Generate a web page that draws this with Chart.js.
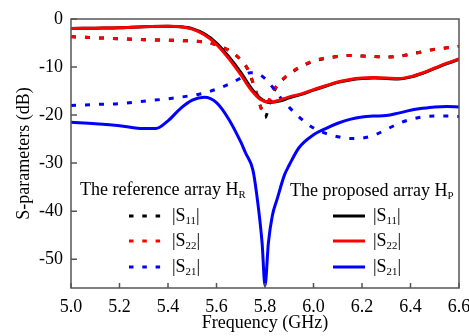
<!DOCTYPE html>
<html>
<head>
<meta charset="utf-8">
<script src="https://cdn.jsdelivr.net/npm/chart.js@4.4.1/dist/chart.umd.min.js"></script>
<style>
  html, body { margin: 0; padding: 0; background: #fff; }
  #box { width: 469px; height: 336px; }
</style>
</head>
<body>
<div id="box"><canvas id="sparam"></canvas></div>
<script>
// frequency (GHz) and S-parameters (dB)
const freqPropRefl = [5.0,5.1,5.2,5.3,5.4,5.45,5.5,5.55,5.6,5.65,5.7,5.74,5.78,5.82,5.86,5.9,5.95,6.0,6.05,6.1,6.15,6.2,6.25,6.3,6.35,6.4,6.45,6.5,6.55,6.6]
const s22Prop = [-2.0,-1.9,-1.8,-1.6,-1.5,-1.6,-2.1,-3.3,-5.3,-8.2,-11.6,-14.6,-16.7,-17.3,-16.9,-16.2,-15.6,-14.7,-13.9,-13.1,-12.6,-12.3,-12.2,-12.3,-12.4,-12.0,-11.2,-10.2,-9.2,-8.3]
const s11Prop = [-2.0,-1.9,-1.8,-1.6,-1.5,-1.6,-2.0,-3.1,-5.0,-7.8,-11.1,-14.2,-16.5,-17.4,-17.1,-16.4,-15.7,-14.8,-14.0,-13.2,-12.7,-12.4,-12.3,-12.4,-12.5,-12.1,-11.3,-10.3,-9.3,-8.4]

const freqRefRefl = [5.0,5.1,5.2,5.3,5.4,5.5,5.55,5.6,5.65,5.7,5.73,5.76,5.79,5.81,5.83,5.86,5.9,5.95,6.0,6.05,6.1,6.15,6.2,6.25,6.3,6.35,6.4,6.45,6.5,6.55,6.6]
const s22Ref = [-3.7,-3.9,-4.1,-4.3,-4.4,-4.6,-4.8,-5.4,-6.5,-8.5,-10.5,-14.5,-18.8,-17.5,-15.3,-13.2,-11.4,-9.8,-8.7,-8.1,-7.8,-7.6,-7.7,-7.8,-7.9,-7.8,-7.3,-6.8,-6.3,-6.0,-5.7]
const freqRefS11 = [5.0,5.1,5.2,5.3,5.4,5.5,5.55,5.6,5.65,5.7,5.73,5.76,5.78,5.80,5.82,5.84,5.87,5.9,5.95,6.0,6.05,6.1,6.15,6.2,6.25,6.3,6.35,6.4,6.45,6.5,6.55,6.6]
const s11Ref = [-3.7,-3.9,-4.1,-4.3,-4.4,-4.6,-4.8,-5.4,-6.5,-8.5,-10.6,-14.8,-18.0,-20.5,-17.5,-14.8,-12.8,-11.5,-9.9,-8.8,-8.2,-7.8,-7.6,-7.7,-7.8,-7.9,-7.8,-7.3,-6.8,-6.3,-6.0,-5.7]

const freqRefS21 = [5.0,5.1,5.2,5.3,5.4,5.5,5.55,5.6,5.65,5.7,5.74,5.77,5.8,5.83,5.87,5.9,5.94,6.0,6.05,6.1,6.15,6.2,6.25,6.3,6.35,6.4,6.45,6.5,6.55,6.6]
const s21Ref = [-18.0,-17.8,-17.6,-17.1,-16.6,-15.9,-15.4,-14.6,-13.6,-12.3,-11.2,-11.4,-12.4,-14.1,-16.8,-18.4,-20.4,-22.7,-23.8,-24.5,-24.9,-24.8,-24.2,-23.0,-21.8,-20.9,-20.4,-20.2,-20.2,-20.3]

const freqPropS21 = [5.0,5.1,5.2,5.3,5.35,5.4,5.45,5.5,5.55,5.6,5.65,5.7,5.72,5.75,5.765,5.788,5.8,5.814,5.83,5.85,5.88,5.9,5.94,6.0,6.05,6.1,6.15,6.2,6.25,6.3,6.35,6.4,6.45,6.5,6.55,6.6]
const s21Prop = [-21.5,-21.8,-22.2,-22.8,-22.8,-21.2,-18.7,-16.9,-16.3,-17.4,-20.8,-25.6,-27.9,-31.4,-36.2,-46.6,-55.5,-46.6,-41.0,-37.5,-32.5,-30.4,-26.8,-24.1,-22.8,-21.7,-20.9,-20.4,-20.2,-20.1,-19.6,-19.0,-18.6,-18.3,-18.2,-18.3]

const xTicks = [5.0,5.2,5.4,5.6,5.8,6.0,6.2,6.4,6.6]
const yTicks = [0,-10,-20,-30,-40,-50]

const serif = "'Liberation Serif', 'Times New Roman', serif"
Chart.defaults.font.family = serif
Chart.defaults.font.size = 18
Chart.defaults.color = '#000'

const pts = (xs, ys) => xs.map((x, i) => ({x: x, y: ys[i]}))
const dashed = [5, 9]

function line(label, xs, ys, color, dash, order) {
    return {
        label: label,
        data: pts(xs, ys),
        borderColor: color,
        borderWidth: 3,
        borderDash: dash || [],
        pointRadius: 0,
        fill: false,
        cubicInterpolationMode: 'monotone',
        order: order
    }
}

// draws a run of [text, isSubscript] pieces starting at x, vertically centred on y
function richText(ctx, x, y, parts, size) {
    parts.forEach(p => {
        const sub = p[1]
        ctx.font = (sub ? size * 0.6 : size) + 'px ' + serif
        ctx.fillText(p[0], x, sub ? y + size * 0.3 : y)
        x += ctx.measureText(p[0]).width
    })
}

const decor = {
    id: 'decor',
    afterDraw(chart) {
        const ctx = chart.ctx
        const a = chart.chartArea
        const sx = chart.scales.x, sy = chart.scales.y
        ctx.save()
        // frame
        ctx.strokeStyle = '#555'
        ctx.lineWidth = 1.5
        ctx.strokeRect(a.left, a.top, a.right - a.left, a.bottom - a.top)
        // inward ticks
        ctx.beginPath()
        xTicks.forEach(v => {
            const px = sx.getPixelForValue(v)
            ctx.moveTo(px, a.bottom); ctx.lineTo(px, a.bottom - 5)
        })
        yTicks.forEach(v => {
            const py = sy.getPixelForValue(v)
            ctx.moveTo(a.left, py); ctx.lineTo(a.left + 6, py)
        })
        ctx.stroke()

        // axis titles
        ctx.fillStyle = '#000'
        ctx.font = '18px ' + serif
        ctx.textAlign = 'center'
        ctx.textBaseline = 'middle'
        ctx.fillText('Frequency (GHz)', (a.left + a.right) / 2, 323)
        ctx.save()
        ctx.translate(24, (a.top + a.bottom) / 2)
        ctx.rotate(-Math.PI / 2)
        ctx.fillText('S-parameters (dB)', 0, 0)
        ctx.restore()

        // the two legend blocks
        ctx.textAlign = 'left'
        richText(ctx, 80, 190, [['The reference array H', false], ['R', true]], 18)
        richText(ctx, 290, 191, [['The proposed array H', false], ['P', true]], 18)
        const rowsY = [216, 241, 267]
        const names = ['11', '22', '21']
        const colors = ['#000', '#f00', '#00f']
        rowsY.forEach((y, i) => {
            ctx.strokeStyle = colors[i]
            ctx.lineWidth = 3
            ctx.setLineDash([4.5, 8.8])
            ctx.beginPath(); ctx.moveTo(129, y); ctx.lineTo(162, y); ctx.stroke()
            ctx.setLineDash([])
            ctx.beginPath(); ctx.moveTo(333, y); ctx.lineTo(365, y); ctx.stroke()
            const parts = [['|S', false], [names[i], true], ['|', false]]
            richText(ctx, 172, y, parts, 18)
            richText(ctx, 373, y, parts, 18)
        })
        ctx.restore()
    }
}

new Chart(document.getElementById('sparam'), {
    type: 'line',
    data: {
        datasets: [
            line('|S11| ref', freqRefS11, s11Ref, '#000', dashed, 6),
            line('|S22| ref', freqRefRefl, s22Ref, '#f00', dashed, 5),
            line('|S21| ref', freqRefS21, s21Ref, '#00f', dashed, 4),
            line('|S11| prop', freqPropRefl, s11Prop, '#000', null, 3),
            line('|S22| prop', freqPropRefl, s22Prop, '#f00', null, 2),
            line('|S21| prop', freqPropS21, s21Prop, '#00f', null, 1)
        ]
    },
    options: {
        responsive: true,
        maintainAspectRatio: false,
        animation: false,
        layout: { padding: { left: 0, top: 19, right: 10, bottom: 0 } },
        plugins: {
            legend: { display: false },
            tooltip: { enabled: false }
        },
        scales: {
            x: {
                type: 'linear',
                min: 5.0,
                max: 6.6,
                grid: { display: false, drawTicks: false },
                border: { display: false },
                afterFit: s => { s.height = 48; s.paddingLeft = 0; s.paddingRight = 0 },
                afterBuildTicks: s => { s.ticks = xTicks.map(v => ({value: v})) },
                ticks: { padding: 8, maxRotation: 0, autoSkip: false, callback: v => v.toFixed(1) }
            },
            y: {
                min: -56,
                max: 0,
                grid: { display: false, drawTicks: false },
                border: { display: false },
                afterFit: s => { s.width = 71; s.paddingTop = 0; s.paddingBottom = 0 },
                afterBuildTicks: s => { s.ticks = yTicks.map(v => ({value: v})) },
                ticks: { padding: 8, callback: v => String(v) }
            }
        }
    },
    plugins: [decor]
});
</script>
</body>
</html>
